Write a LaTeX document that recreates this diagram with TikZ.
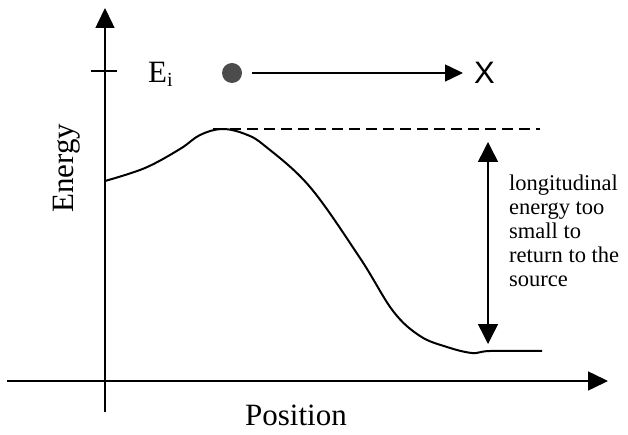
\documentclass[tikz,border=0pt]{standalone}
\usepackage{fontspec}
\setmainfont{Liberation Serif}
\newfontfamily\sansfont{Liberation Sans}
\usetikzlibrary{arrows.meta}

\begin{document}
\begin{tikzpicture}[x=1pt,y=-1pt,
	axe/.style={line width=1.5pt,-{Triangle[length=20pt,width=19pt]}},
	fleche/.style={line width=1.5pt,-{Triangle[length=18pt,width=17pt]}},
	grand/.style={font=\fontsize{31}{31}\selectfont}]
	\useasboundingbox (0,0) rectangle (628,435);
	%% axes
	\coordinate (ybas) at (105,412);
	\coordinate (yhaut) at (105,8);
	\coordinate (xgauche) at (7,381);
	\coordinate (xdroite) at (608,381);
	\draw[axe] (ybas) -- (yhaut);
	\draw[axe] (xgauche) -- (xdroite);
	\node[grand,rotate=90,anchor=base] (energy) at (73,168) {Energy};
	\node[grand,anchor=base] (position) at (296,425) {Position};
	
	%% niveau initial
	\coordinate (tickg) at (91,71);
	\coordinate (tickd) at (117,71);
	\draw[line width=1.5pt] (tickg) -- (tickd);
	\node[grand,anchor=base west,inner sep=0] (ei) at (148,83)
		{E\raisebox{-4pt}{\fontsize{20}{20}\selectfont i}};
	\node[circle,fill=black!70,minimum size=20pt,inner sep=0] (bille) at (232,73) {};
	\node[font=\sansfont\fontsize{31}{31}\selectfont,anchor=west,inner sep=0] (X) at (474,73) {X};
	\draw[fleche,shorten <=10pt,shorten >=11pt] (bille) -- (X);
	
	%% barriere
	\draw[line width=2pt,line join=round] plot[smooth,tension=0.6] coordinates {
		(105,181) (145,168) (180,149) (200,135) (222,129) (245,134) (265,146)
		(310,187) (360,258) (393,311) (420,336) (447,347)
		(472,353) (490,351) (542,351)};
	\coordinate (sommet) at (213,129);
	\coordinate (finpointille) at (540,129);
	\draw[line width=1.5pt,dash pattern=on 11pt off 6pt] (sommet) -- (finpointille);
	
	%% ecart d'energie
	\coordinate (haut) at (488,142);
	\coordinate (bas) at (488,344);
	\draw[line width=1.5pt,{Triangle[length=20pt,width=20pt]}-{Triangle[length=20pt,width=20pt]}] (haut) -- (bas);
	\node[font=\fontsize{22.5}{24}\selectfont,align=left,anchor=north west,inner sep=0] (texte) at (509,175)
		{longitudinal\\energy too\\small to\\return to the\\source};
\end{tikzpicture}
\end{document}
